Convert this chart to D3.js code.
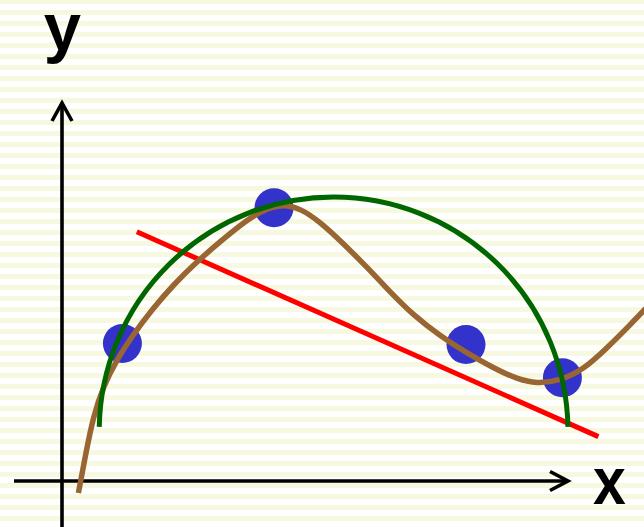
<!DOCTYPE html>
<html>
<head>
<meta charset="utf-8">
<script src="https://cdn.jsdelivr.net/npm/d3@7"></script>
<style>
  html, body { margin: 0; padding: 0; background: #ffffff; }
  svg { display: block; }
</style>
</head>
<body>
<script>
// Observed samples (x, y in plot units)
const sampleX = [1.51, 5.30, 10.10, 12.51];
const sampleY = [3.44, 6.83, 3.41, 2.58];

// Straight-line model: two end points
const lineX = [1.87, 13.41];
const lineY = [6.23, 1.11];

// Wiggly high-order fit, traced along its length
const wiggleX = [0.41, 0.58, 0.78, 1.03, 1.37, 1.74, 2.28, 2.78, 3.37, 3.95, 4.62, 5.12, 5.53,
                 5.95, 6.45, 7.03, 7.62, 8.20, 8.78, 9.45, 10.12, 10.78, 11.37, 11.87, 12.45,
                 13.03, 13.62, 14.20, 14.85];
const wiggleY = [-0.30, 0.61, 1.61, 2.36, 3.03, 3.61, 4.32, 4.90, 5.48, 5.98, 6.53, 6.82, 6.91,
                 6.82, 6.48, 5.94, 5.35, 4.73, 4.15, 3.63, 3.20, 2.83, 2.55, 2.43, 2.51,
                 2.78, 3.32, 3.90, 4.58];

// Round model: circular arc (centre, radius, gap above the horizontal at each end in degrees)
const arcCentre = [6.79, 1.24];
const arcRadius = 5.86;
const arcEndGapDeg = 1.1;

// Axis extents and labels
const xAxisExtent = [-1.2, 12.65];
const yAxisExtent = [-1.2, 9.45];
const axisLabels = ["x", "y"];

const W = 644, H = 527;
const x = d3.scaleLinear().domain([0, 1]).range([62, 102]);
const y = d3.scaleLinear().domain([0, 1]).range([481, 441]);

const svg = d3.select("body").append("svg")
  .attr("width", W).attr("height", H);

// Ruled paper background
svg.append("rect").attr("width", W).attr("height", H).attr("fill", "#ffffff");
svg.append("g").selectAll("rect")
  .data(d3.range(0, Math.ceil(H / 11) + 1))
  .join("rect")
  .attr("x", 0).attr("width", W)
  .attr("y", d => d * 11 - 1).attr("height", 5)
  .attr("fill", "#f6f9df");

// Axes with open arrow heads
const axisG = svg.append("g")
  .attr("stroke", "#000").attr("stroke-width", 3.6).attr("fill", "none");
axisG.append("line")
  .attr("x1", x(xAxisExtent[0])).attr("x2", x(xAxisExtent[1]))
  .attr("y1", y(0)).attr("y2", y(0));
axisG.append("line")
  .attr("x1", x(0)).attr("x2", x(0))
  .attr("y1", y(yAxisExtent[0])).attr("y2", y(yAxisExtent[1]));
const xt = [x(xAxisExtent[1]), y(0)];
const yt = [x(0), y(yAxisExtent[1])];
axisG.append("path")
  .attr("stroke-linejoin", "miter")
  .attr("d", `M${xt[0] - 18},${xt[1] - 9.5}L${xt[0]},${xt[1]}L${xt[0] - 18},${xt[1] + 9.5}`);
axisG.append("path")
  .attr("stroke-linejoin", "miter")
  .attr("d", `M${yt[0] - 10},${yt[1] + 18}L${yt[0]},${yt[1]}L${yt[0] + 10},${yt[1] + 18}`);

// Axis labels
svg.append("text")
  .attr("transform", "translate(609.5,504) scale(0.88,1)")
  .attr("text-anchor", "middle")
  .attr("font-family", "Liberation Sans, Arial, sans-serif")
  .attr("font-weight", "bold").attr("font-size", 67)
  .text(axisLabels[0]);
svg.append("text")
  .attr("x", 62.5).attr("y", 50)
  .attr("text-anchor", "middle")
  .attr("font-family", "Liberation Sans, Arial, sans-serif")
  .attr("font-weight", "bold").attr("font-size", 67)
  .text(axisLabels[1]);

// Sample points
const samples = sampleX.map((v, i) => ({ x: v, y: sampleY[i] }));
svg.append("g").selectAll("circle")
  .data(samples)
  .join("circle")
  .attr("cx", d => x(d.x)).attr("cy", d => y(d.y))
  .attr("r", 19.5)
  .attr("fill", "#3333cc");

// Straight-line model
const linePts = lineX.map((v, i) => ({ x: v, y: lineY[i] }));
svg.append("path")
  .datum(linePts)
  .attr("fill", "none").attr("stroke", "#ff0000").attr("stroke-width", 5)
  .attr("d", d3.line().x(d => x(d.x)).y(d => y(d.y)));

// Wiggly fit
const wigglePts = wiggleX.map((v, i) => ({ x: v, y: wiggleY[i] }));
svg.append("path")
  .datum(wigglePts)
  .attr("fill", "none").attr("stroke", "#996633").attr("stroke-width", 5.5)
  .attr("d", d3.line().x(d => x(d.x)).y(d => y(d.y)).curve(d3.curveBasis));

// Round model
const gap = arcEndGapDeg * Math.PI / 180;
const arcPath = d3.path();
const cx = x(arcCentre[0]), cy = y(arcCentre[1]);
const rPx = x(arcRadius) - x(0);
arcPath.arc(cx, cy, rPx, Math.PI + gap, 2 * Math.PI - gap, false);
svg.append("path")
  .attr("fill", "none").attr("stroke", "#006600").attr("stroke-width", 5)
  .attr("d", arcPath.toString());
</script>
</body>
</html>
